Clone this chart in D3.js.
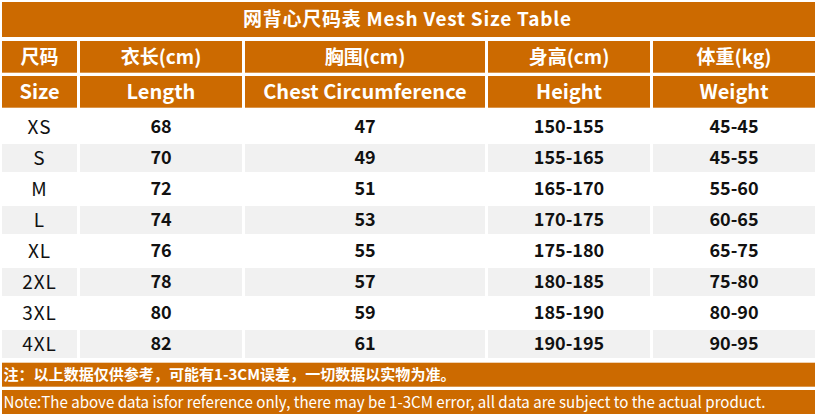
<!DOCTYPE html>
<html>
<head>
<meta charset="utf-8">
<script src="https://cdn.jsdelivr.net/npm/d3@7"></script>
<style>
  html, body { margin: 0; padding: 0; background: #fff; }
  svg { display: block; }
</style>
</head>
<body>
<script>
var title = "网背心尺码表 Mesh Vest Size Table",
    headCn = ["尺码", "衣长(cm)", "胸围(cm)", "身高(cm)", "体重(kg)"],
    headEn = ["Size", "Length", "Chest Circumference", "Height", "Weight"],
    sizes = ["XS", "S", "M", "L", "XL", "2XL", "3XL", "4XL"],
    lengths = [68, 70, 72, 74, 76, 78, 80, 82],
    chests = [47, 49, 51, 53, 55, 57, 59, 61],
    heights = ["150-155", "155-165", "165-170", "170-175", "175-180", "180-185", "185-190", "190-195"],
    weights = ["45-45", "45-55", "55-60", "60-65", "65-75", "75-80", "80-90", "90-95"],
    noteCn = "注：以上数据仅供参考，可能有1-3CM误差，一切数据以实物为准。",
    noteEn = "Note:The above data isfor reference only, there may be 1-3CM error, all data are subject to the actual product.";

var w = 817,
    h = 416,
    gap = 3,
    orange = "#cc6a00",
    grey = "#f1f1f1",
    font = "'Noto Sans CJK SC', 'Noto Sans', sans-serif";

// relative column widths (incl. gap)
var colW = [78, 165, 243, 165, 165];
var colStart = [0];
colW.forEach(function (d, i) { colStart.push(colStart[i] + d); });

var x = d3.scaleLinear()
    .domain([0, d3.sum(colW)])
    .range([2, 2 + d3.sum(colW)]);

var y = d3.scaleBand()
    .domain(sizes)
    .range([111.5, 359.5])
    .paddingInner(0.1)
    .paddingOuter(0.05);

var rows = sizes.map(function (s, i) {
    return [s, lengths[i], chests[i], heights[i], weights[i]];
});

var svg = d3.select("body")
    .append("svg")
    .attr("width", w)
    .attr("height", h);

// title bar
svg.append("rect")
    .attr("x", x(0)).attr("y", 2)
    .attr("width", x(d3.sum(colW)) - x(0) - gap).attr("height", 35)
    .attr("fill", orange);

svg.append("text")
    .attr("x", 407)
    .attr("y", 19.5)
    .attr("dy", "0.36em")
    .attr("text-anchor", "middle")
    .attr("font-family", font)
    .attr("font-weight", "bold")
    .attr("font-size", "19px")
    .attr("textLength", 328)
    .attr("lengthAdjust", "spacing")
    .attr("fill", "white")
    .text(title);

// header rows
var headers = [
    { labels: headCn, top: 41, size: "19px" },
    { labels: headEn, top: 76, size: "20px" }
];

headers.forEach(function (hd) {
    var g = svg.append("g");
    g.selectAll("rect")
        .data(hd.labels)
        .enter()
        .append("rect")
        .attr("x", function (d, i) { return x(colStart[i]); })
        .attr("y", hd.top)
        .attr("width", function (d, i) { return x(colStart[i + 1]) - x(colStart[i]) - gap; })
        .attr("height", 31.7)
        .attr("fill", orange);
    g.selectAll("text")
        .data(hd.labels)
        .enter()
        .append("text")
        .attr("x", function (d, i) { return (x(colStart[i]) + x(colStart[i + 1]) - gap) / 2; })
        .attr("y", hd.top + 16)
        .attr("dy", "0.36em")
        .attr("text-anchor", "middle")
        .attr("font-family", font)
        .attr("font-weight", "bold")
        .attr("font-size", hd.size)
        .attr("fill", "white")
        .text(function (d) { return d; });
});

// data rows
var rowG = svg.selectAll("g.row")
    .data(rows)
    .enter()
    .append("g")
    .attr("class", "row")
    .attr("transform", function (d) { return "translate(0," + y(d[0]) + ")"; });

rowG.selectAll("rect")
    .data(function (d, i) { return d.map(function (v) { return { v: v, r: i }; }); })
    .enter()
    .append("rect")
    .attr("x", function (d, i) { return x(colStart[i]); })
    .attr("width", function (d, i) { return x(colStart[i + 1]) - x(colStart[i]) - gap; })
    .attr("height", y.bandwidth())
    .attr("fill", function (d) { return d.r % 2 ? grey : "white"; });

rowG.selectAll("text")
    .data(function (d) { return d; })
    .enter()
    .append("text")
    .attr("x", function (d, i) { return (x(colStart[i]) + x(colStart[i + 1]) - gap) / 2; })
    .attr("y", y.bandwidth() / 2)
    .attr("dy", "0.36em")
    .attr("text-anchor", "middle")
    .attr("font-family", font)
    .attr("font-weight", function (d, i) { return i === 0 ? "normal" : "bold"; })
    .attr("font-size", function (d, i) { return i === 0 ? "19px" : "18px"; })
    .attr("letter-spacing", function (d, i) { return i === 0 ? "1px" : null; })
    .attr("fill", "#111")
    .text(function (d) { return d; });

// notes
var notes = [
    { text: noteCn, top: 362.7, weight: "bold", size: "15px", len: 452 },
    { text: noteEn, top: 390, weight: "normal", size: "16px", len: 762 }
];

notes.forEach(function (n) {
    svg.append("rect")
        .attr("x", x(0)).attr("y", n.top)
        .attr("width", x(d3.sum(colW)) - x(0) - gap).attr("height", 24)
        .attr("fill", orange);
    svg.append("text")
        .attr("x", 3.5)
        .attr("y", n.top + 12)
        .attr("dy", "0.36em")
        .attr("font-family", font)
        .attr("font-weight", n.weight)
        .attr("font-size", n.size)
        .attr("textLength", n.len)
        .attr("lengthAdjust", "spacingAndGlyphs")
        .attr("fill", "white")
        .text(n.text);
});
</script>
</body>
</html>
